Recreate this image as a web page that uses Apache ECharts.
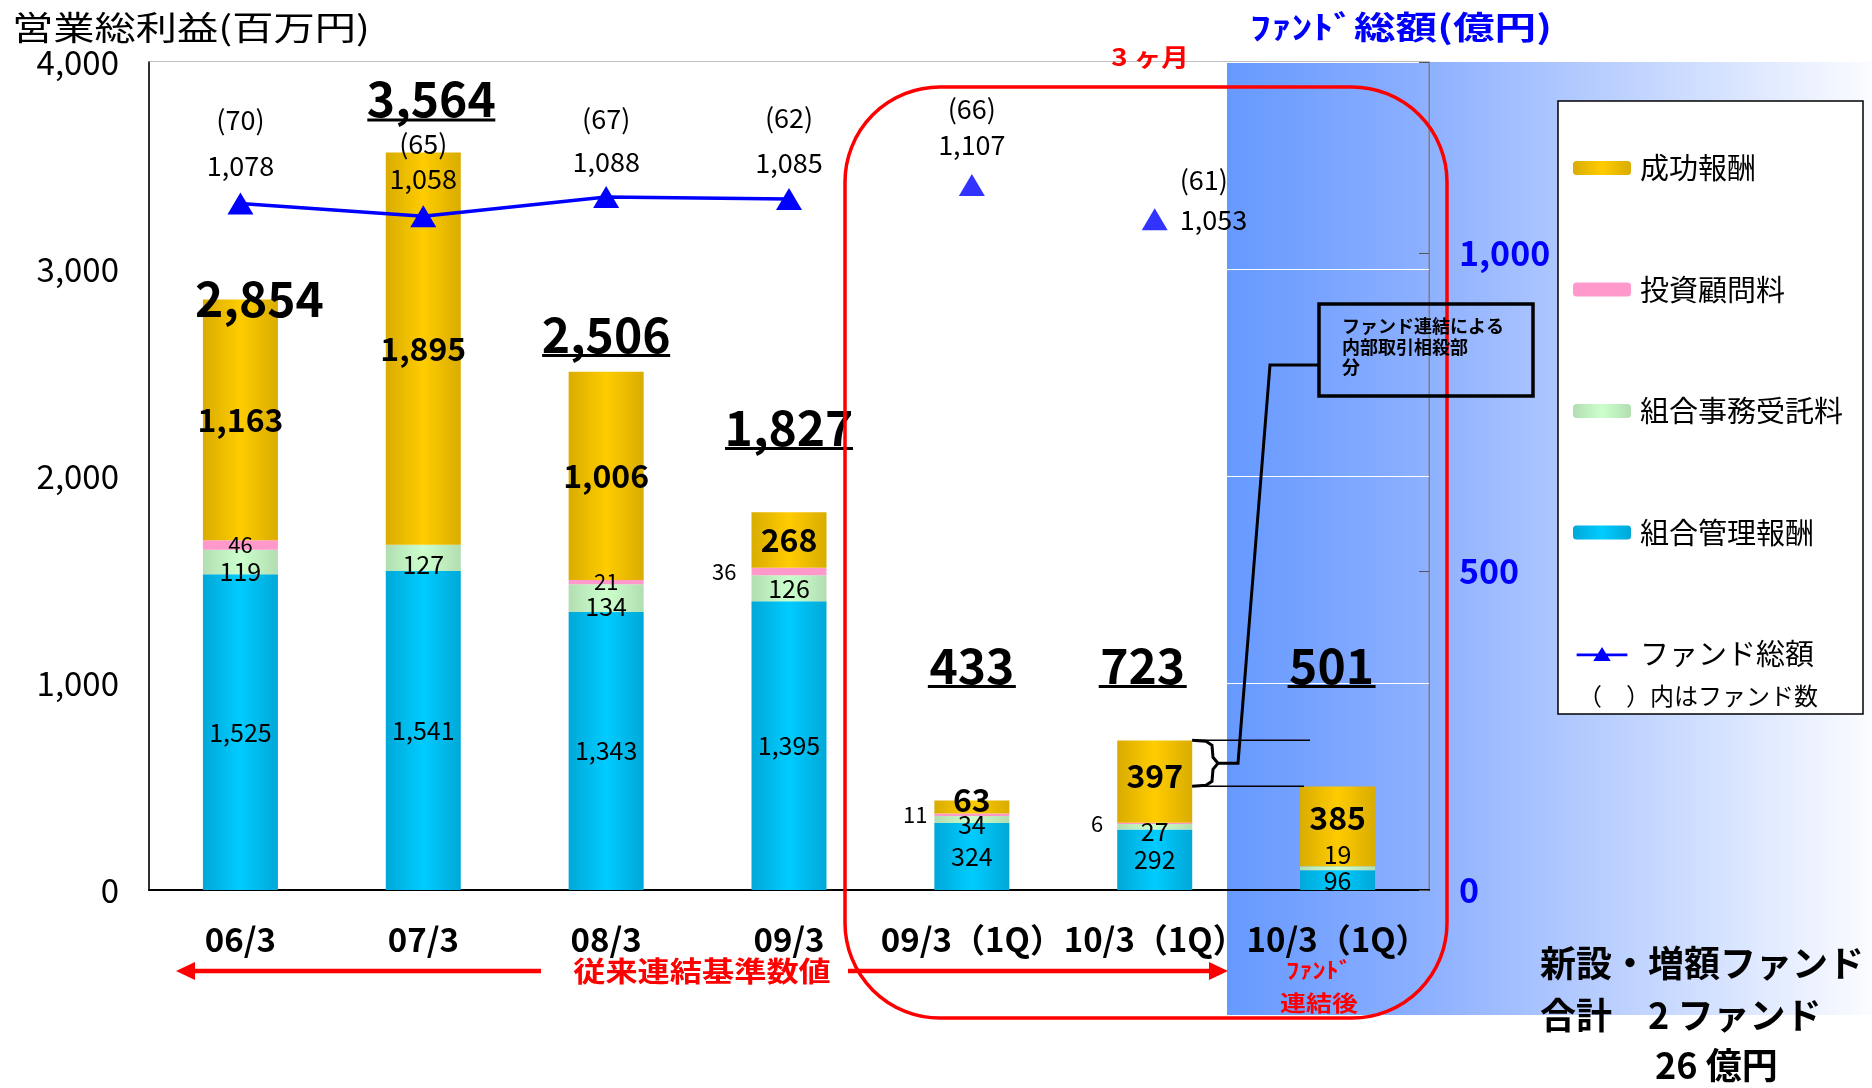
<!DOCTYPE html>
<html><head><meta charset="utf-8">
<script src="https://cdn.jsdelivr.net/npm/echarts@6/dist/echarts.min.js"></script>
<style>html,body{margin:0;padding:0;background:#fff}#c{width:1872px;height:1088px}</style>
</head><body><div id="c"></div>
<script>
// ---------- data ----------
const categories = ['06/3', '07/3', '08/3', '09/3', '09/3（1Q）', '10/3（1Q）', '10/3（1Q）'];
const mgmtFee = [1525, 1541, 1343, 1395, 324, 292, 96];       // 組合管理報酬
const adminFee = [119, 127, 134, 126, 34, 27, 19];           // 組合事務受託料
const advisoryFee = [46, 0, 21, 36, 11, 6, 0];               // 投資顧問料
const successFee = [1163, 1895, 1006, 268, 63, 397, 385];    // 成功報酬
const totals = [2854, 3564, 2506, 1827, 433, 723, 501];      // 営業総利益
const fundTotal = [1078, 1058, 1088, 1085, 1107, 1053, null]; // ファンド総額(億円)
const fundCount = [70, 65, 67, 62, 66, 61, null];             // ファンド数
const fundLineLinked = [true, true, true, true, false, false, false];

// ---------- layout (label placement only) ----------
const totalLabelLevel = [2857, 3821, 2684, 2234, 1085, 1085, 1085];
const totalLabelDx = [19, 8, 0, 0, 0, -12, -6];
const totalUnderlined = [false, true, true, true, true, true, true];
const adminLabelDy = [9, 7, 8, 0, 5, 5, -14];
const successLabelDy = [0, 0, 0, 0, -7, -6, -9];
const advisoryLabelSide = ['inside', 'inside', 'inside', 'left', 'left', 'left', 'inside'];
const advisoryLabelDist = [0, 0, 0, 15, 7, 14, 0];
const fundLabelLift = [38, 37, 35, 36, 40, 0, 0];
const fundLabelGap = [46, 35, 43, 45, 36, 40, 0];

const FONT = '"Noto Sans CJK JP", "Liberation Sans", sans-serif';
const fmt = v => String(v).replace(/\B(?=(\d{3})+(?!\d))/g, ',');
const grad = (edge, mid) => ({type: 'linear', x: 0, y: 0, x2: 1, y2: 0,
  colorStops: [{offset: 0, color: edge}, {offset: 0.5, color: mid}, {offset: 1, color: edge}]});

const SYM_H = 22;
function fundItem(v, i) {
  if (v == null) return '-';
  const gap = fundLabelGap[i];
  const rich = {
    c: {fontSize: 27, color: '#000000', lineHeight: gap, fontFamily: FONT, opacity: 1},
    v: {fontSize: 27, color: '#000000', lineHeight: gap, fontFamily: FONT, opacity: 1}
  };
  if (i === 5) {
    return {value: v, label: {position: 'right', distance: 12, offset: [0, -gap / 2], align: 'left', rich}};
  }
  return {value: v, label: {position: 'top', distance: fundLabelLift[i] - gap / 2 - SYM_H / 2, rich}};
}
const fundFormatter = p => `{c|(${fundCount[p.dataIndex]})}\n{v|${fmt(p.value)}}`;
const labelBase = {color: '#000', textBorderWidth: 0, textShadowBlur: 0};

const option = {
  animation: false,
  backgroundColor: '#ffffff',
  textStyle: {fontFamily: FONT},
  grid: {left: 149, right: 443, top: 62, bottom: 198, show: true, borderColor: '#7f7f7f', borderWidth: 1, backgroundColor: 'transparent'},
  legend: {
    orient: 'vertical', left: 1568, top: 148, itemWidth: 58, itemHeight: 14, itemGap: 91.5,
    selectedMode: false,
    textStyle: {fontSize: 29, color: '#000', fontFamily: FONT, lineHeight: 30, padding: [0, 0, 0, 4]},
    data: ['成功報酬', '投資顧問料', '組合事務受託料', '組合管理報酬',
      {name: 'ファンド総額', icon: 'path://M0,10.5L58,10.5L58,13.5L0,13.5Z M19,19L29,3L39,19Z'}]
  },
  xAxis: {
    type: 'category', data: categories,
    axisLine: {lineStyle: {color: '#000', width: 2}}, axisTick: {show: false},
    axisLabel: {interval: 0, margin: 33, fontSize: 33, fontWeight: 'bold', color: '#000', fontFamily: FONT}
  },
  yAxis: [
    {type: 'value', min: 0, max: 4000, interval: 1000,
     axisLine: {show: true, lineStyle: {color: '#000', width: 1.5}}, axisTick: {show: false},
     splitLine: {show: true, lineStyle: {color: '#ffffff', width: 1}},
     axisLabel: {margin: 30, fontSize: 33, color: '#000', formatter: v => fmt(v), fontFamily: FONT}},
    {type: 'value', min: 0, max: 1300, interval: 500, position: 'right',
     axisLine: {show: true, lineStyle: {color: '#7f7f7f', width: 1}},
     axisTick: {show: true, inside: true, length: 10, lineStyle: {color: '#555'}},
     splitLine: {show: false},
     axisLabel: {margin: 30, fontSize: 34, fontWeight: 'bold', color: '#0000ff', fontFamily: FONT,
                 formatter: v => (v % 500 === 0 ? fmt(v) : '')}}
  ],
  series: [
    {name: '組合管理報酬', type: 'bar', stack: 'fee', barWidth: 75,
     itemStyle: {color: grad('#00a8d8', '#00ccff')},
     label: Object.assign({show: true, position: 'inside', fontSize: 25, formatter: p => fmt(p.value)}, labelBase),
     data: mgmtFee},
    {name: '組合事務受託料', type: 'bar', stack: 'fee', barWidth: 75,
     itemStyle: {color: grad('#b2deb2', '#ccffcc')},
     label: Object.assign({show: true, position: 'inside', fontSize: 25, formatter: p => fmt(p.value)}, labelBase),
     data: adminFee.map((v, i) => ({value: v, label: {offset: [0, adminLabelDy[i]]}}))},
    {name: '投資顧問料', type: 'bar', stack: 'fee', barWidth: 75,
     itemStyle: {color: '#ff99cc'},
     label: Object.assign({show: true, position: 'inside', fontSize: 22, formatter: p => fmt(p.value)}, labelBase),
     data: advisoryFee.map((v, i) => ({value: v,
       label: {show: v > 0, position: advisoryLabelSide[i], distance: advisoryLabelDist[i]}}))},
    {name: '成功報酬', type: 'bar', stack: 'fee', barWidth: 75,
     itemStyle: {color: grad('#d9ac00', '#ffcc00')},
     label: Object.assign({show: true, position: 'inside', fontSize: 32, fontWeight: 'bold', formatter: p => fmt(p.value)}, labelBase),
     data: successFee.map((v, i) => ({value: v, label: {offset: [0, successLabelDy[i]]}}))},
    {name: 'ファンド総額', type: 'line', yAxisIndex: 1, z: 6,
     symbol: 'triangle', symbolSize: [26, SYM_H],
     itemStyle: {color: '#0000ff'}, lineStyle: {color: '#0000ff', width: 3.5},
     label: Object.assign({show: true, formatter: fundFormatter}, labelBase),
     data: fundTotal.map((v, i) => fundLineLinked[i] ? fundItem(v, i) : '-')},
    {name: 'ファンド総額', type: 'scatter', yAxisIndex: 1, z: 6,
     symbol: 'triangle', symbolSize: [26, SYM_H],
     itemStyle: {color: '#0000ff'},
     label: Object.assign({show: true, formatter: fundFormatter}, labelBase),
     data: fundTotal.map((v, i) => (!fundLineLinked[i] && v != null) ? fundItem(v, i) : '-')},
    {name: '合計', type: 'scatter', z: 7, silent: true, symbolSize: 1,
     itemStyle: {color: '#000', opacity: 0.001},
     label: Object.assign({show: true, position: 'inside',
       formatter: p => {
         const i = p.dataIndex, s = fmt(totals[i]);
         return totalUnderlined[i] ? `{n|${s}}\n{${s.length > 3 ? 'u5' : 'u3'}|}` : `{n|${s}}`;
       },
       rich: {
         n: {fontSize: 48, fontWeight: 'bold', color: '#000', lineHeight: 36, fontFamily: FONT, textBorderWidth: 0},
         u5: {width: 128, height: 3, lineHeight: 6, backgroundColor: '#000'},
         u3: {width: 88, height: 3, lineHeight: 6, backgroundColor: '#000'}
       }}, labelBase, {opacity: 1}),
     data: totals.map((t, i) => ({value: [i, totalLabelLevel[i]],
       label: {offset: [totalLabelDx[i], totalUnderlined[i] ? 3 : 0]}}))}
  ]
};

const chart = echarts.init(document.getElementById('c'));
chart.setOption(option);

// ---------- annotations ----------
const px = (i, v) => chart.convertToPixel({xAxisIndex: 0, yAxisIndex: 0}, [i, v]);
const RED = '#ff0000';
function txt(x, y, text, o) {
  o = o || {};
  return {type: 'text', x, y, scaleX: o.sx || 1, z: 60, silent: true,
    style: {text, fill: o.color || '#000', fontSize: o.size || 20, fontWeight: o.bold ? 'bold' : 'normal',
      fontFamily: FONT, textAlign: o.align || 'left', align: o.align || 'left',
      textVerticalAlign: o.va || 'middle', verticalAlign: o.va || 'middle', lineHeight: o.lh}};
}
const yTop = px(5, totals[5])[1];
const yBot = px(6, totals[6])[1];
const yMid = (yTop + yBot) / 2;
const barRight5 = px(5, 0)[0] + 37.5;

const els = [
  {type: 'rect', z: -10, silent: true, shape: {x: 1227, y: 62, width: 645, height: 953},
   style: {fill: new echarts.graphic.LinearGradient(0, 0, 1, 0, [
     {offset: 0, color: '#6699ff'}, {offset: 0.31, color: '#8db0ff'}, {offset: 1, color: '#fbfcff'}])}},
  // legend box
  {type: 'rect', z: 3, silent: true, shape: {x: 1558, y: 101, width: 305, height: 613},
   style: {fill: '#ffffff', stroke: '#000', lineWidth: 1.5}},
  txt(1578, 696, '（　）内はファンド数', {size: 24}),
  // titles
  txt(12, 27, '営業総利益(百万円)', {size: 33, sx: 1.25}),
  txt(1250, 27, 'ﾌｧﾝﾄﾞ総額(億円)', {size: 32, bold: true, color: '#0000ff', sx: 1.3}),
  // red rounded rectangle
  {type: 'rect', z: 50, silent: true, shape: {x: 845, y: 87, width: 602, height: 931, r: 95},
   style: {fill: null, stroke: RED, lineWidth: 3.5}},
  txt(1150, 57, '3 ヶ月', {size: 24, bold: true, color: RED, align: 'center', sx: 1.15}),
  // arrows
  {type: 'line', z: 50, silent: true, shape: {x1: 190, y1: 971, x2: 541, y2: 971}, style: {stroke: RED, lineWidth: 4.5}},
  {type: 'polygon', z: 50, silent: true, shape: {points: [[176, 971], [195, 962], [195, 980]]}, style: {fill: RED}},
  {type: 'line', z: 50, silent: true, shape: {x1: 848, y1: 971, x2: 1212, y2: 971}, style: {stroke: RED, lineWidth: 4.5}},
  {type: 'polygon', z: 50, silent: true, shape: {points: [[1228, 971], [1209, 962], [1209, 980]]}, style: {fill: RED}},
  txt(702, 971, '従来連結基準数値', {size: 28, bold: true, color: RED, align: 'center', sx: 1.15}),
  txt(1319, 970, 'ﾌｧﾝﾄﾞ', {size: 22, bold: true, color: RED, align: 'center', sx: 1.2}),
  txt(1319, 1003, '連結後', {size: 22, bold: true, color: RED, align: 'center', sx: 1.18}),
  // callout
  {type: 'rect', z: 55, silent: true, shape: {x: 1319, y: 304, width: 214, height: 92},
   style: {fill: null, stroke: '#000', lineWidth: 3.5}},
  txt(1342, 347, 'ファンド連結による\n内部取引相殺部\n分', {size: 18, bold: true, lh: 20.5}),
  {type: 'polyline', z: 55, silent: true,
   shape: {points: [[1319, 365], [1270, 365], [1238, yMid], [1217, yMid]]},
   style: {stroke: '#000', lineWidth: 3, fill: null}},
  {type: 'polyline', z: 55, silent: true,
   shape: {points: [[barRight5, yTop], [1206, yTop + 1], [1212, yTop + 5], [1213, yMid - 6],
                    [1218, yMid], [1213, yMid + 6], [1212, yBot - 5], [1206, yBot - 1], [barRight5, yBot]]},
   style: {stroke: '#000', lineWidth: 3, fill: null}},
  {type: 'line', z: 55, silent: true, shape: {x1: barRight5, y1: yTop, x2: 1310, y2: yTop}, style: {stroke: '#000', lineWidth: 1.5}},
  {type: 'line', z: 55, silent: true, shape: {x1: barRight5, y1: yBot, x2: 1304, y2: yBot}, style: {stroke: '#000', lineWidth: 1.5}},
  // bottom-right note
  txt(1540, 963, '新設・増額ファンド', {size: 36, bold: true}),
  txt(1540, 1015, '合計　2 ファンド', {size: 36, bold: true}),
  txt(1655, 1065, '26 億円', {size: 36, bold: true})
];
chart.setOption({graphic: {elements: els}});
</script></body></html>
